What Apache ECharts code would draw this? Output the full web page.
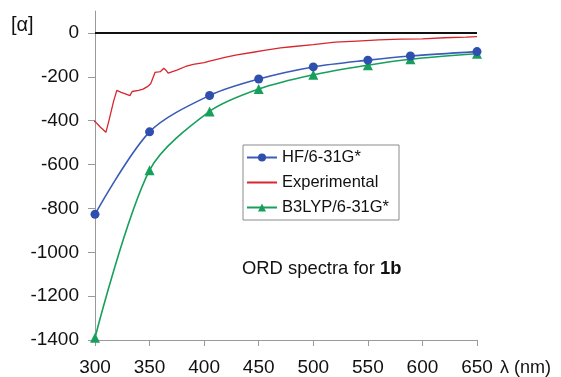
<!DOCTYPE html>
<html>
<head>
<meta charset="utf-8">
<script src="https://cdn.jsdelivr.net/npm/echarts@6/dist/echarts.min.js"></script>
<style>
html,body{margin:0;padding:0;background:#fff;}
#chart{width:561px;height:377px;}
</style>
</head>
<body>
<div id="chart"></div>
<script>
var xTicks = [300, 350, 400, 450, 500, 550, 600, 650];
var yTicks = [-1400, -1200, -1000, -800, -600, -400, -200, 0];

var calcWavelengths = [300, 350, 405, 450, 500, 550, 589, 650];
var hfValues = [-827, -451, -285, -210, -155, -124, -105, -85];
var b3lypValues = [-1390, -626, -358, -256, -191, -147, -120, -95];

var expWavelengths = [297, 300, 305, 310, 313, 317, 320, 324, 329, 332, 334, 340, 344, 348, 351, 355, 358, 360, 363, 365, 367, 375, 383, 390, 400, 405, 420, 430, 445, 455, 470, 480, 500, 520, 540, 560, 580, 600, 620, 640, 650];
var expValues = [-406, -403, -430, -453, -395, -312, -262, -271, -280, -286, -267, -262, -256, -245, -232, -180, -178, -176, -161, -170, -183, -170, -153, -143, -135, -128, -110, -100, -88, -80, -68, -63, -53, -42, -37, -32, -28, -27, -22, -19, -17];

function pairs(xs, ys) { return xs.map(function (x, i) { return [x, ys[i]]; }); }

var FONT = "'Liberation Sans', Arial, sans-serif";
var BLUE = '#2f4fae';
var RED = '#d7262e';
var GREEN = '#17a05c';
var AXIS = '#9a9a9a';

var chart = echarts.init(document.getElementById('chart'), null, {renderer: 'canvas'});
chart.setOption({
  animation: false,
  backgroundColor: '#fff',
  textStyle: {fontFamily: FONT},
  grid: {left: 95, right: 84, top: 11, bottom: 36, containLabel: false},
  xAxis: {
    type: 'value', min: 300, max: 650, interval: 50,
    axisLine: {show: true, onZero: false, lineStyle: {color: AXIS, width: 1}},
    axisTick: {show: true, inside: false, length: 6, lineStyle: {color: AXIS}},
    splitLine: {show: false},
    axisLabel: {fontSize: 19, color: '#111', margin: 18, fontFamily: FONT, customValues: xTicks,
      formatter: function (v) { return String(v); }}
  },
  yAxis: {
    type: 'value', min: -1400, max: 100, interval: 200,
    axisLine: {show: true, onZero: false, lineStyle: {color: AXIS, width: 1}},
    axisTick: {show: true, inside: false, length: 7, lineStyle: {color: AXIS}, customValues: yTicks},
    splitLine: {show: false},
    axisLabel: {fontSize: 19, color: '#111', margin: 16, fontFamily: FONT, customValues: yTicks,
      formatter: function (v) { return String(v); }}
  },
  legend: {
    orient: 'vertical', left: 243, top: 145,
    padding: [4, 10, 4, 3], itemGap: 8, itemWidth: 30, itemHeight: 10,
    borderColor: '#8a8a8a', borderWidth: 1,
    textStyle: {fontSize: 16.5, lineHeight: 16, color: '#111', fontFamily: FONT},
    data: [
      {name: 'HF/6-31G*'},
      {name: 'Experimental', itemStyle: {opacity: 0}},
      {name: 'B3LYP/6-31G*'}
    ]
  },
  graphic: [
    {type: 'text', left: 11, top: 15, style: {text: '[α]', fontSize: 20, fontFamily: FONT, fill: '#111'}},
    {type: 'text', left: 500, top: 359, style: {text: 'λ (nm)', fontSize: 18, fontFamily: FONT, fill: '#111'}},
    {type: 'text', left: 242, top: 260, style: {
      text: '{n|ORD spectra for }{b|1b}',
      rich: {
        n: {fontSize: 18.4, fontFamily: FONT, fill: '#111'},
        b: {fontSize: 18.4, fontFamily: FONT, fontWeight: 'bold', fill: '#111'}
      }
    }}
  ],
  series: [
    {
      name: 'Experimental', type: 'line', data: pairs(expWavelengths, expValues),
      showSymbol: false, symbol: 'none', clip: false, z: 2,
      lineStyle: {color: RED, width: 1.3}, itemStyle: {color: RED},
      markLine: {
        silent: true, symbol: 'none', label: {show: false},
        lineStyle: {color: '#111', width: 2, type: 'solid'},
        data: [{yAxis: 0}]
      }
    },
    {
      name: 'HF/6-31G*', type: 'line', data: pairs(calcWavelengths, hfValues),
      smooth: 0.3, symbol: 'circle', symbolSize: 9, z: 4,
      lineStyle: {color: '#3a5cb8', width: 1.6}, itemStyle: {color: BLUE}
    },
    {
      name: 'B3LYP/6-31G*', type: 'line', data: pairs(calcWavelengths, b3lypValues),
      smooth: 0.3, symbol: 'triangle', symbolSize: 10, z: 3,
      lineStyle: {color: GREEN, width: 1.6}, itemStyle: {color: GREEN}
    }
  ]
});
</script>
</body>
</html>
